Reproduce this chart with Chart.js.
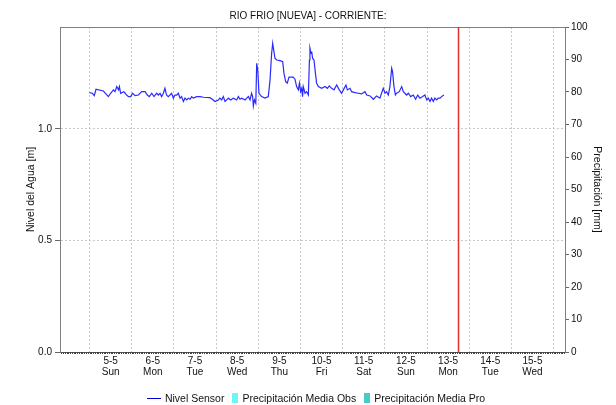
<!DOCTYPE html>
<html>
<head>
<meta charset="utf-8">
<script src="https://cdn.jsdelivr.net/npm/chart.js@4.4.1/dist/chart.umd.min.js"></script>
<style>
  html, body { margin: 0; padding: 0; background: #fff; }
  #wrap { position: relative; width: 616px; height: 405px; }
  #legend {
    position: absolute; left: 8px; width: 616px; top: 391px; height: 14px;
    display: flex; justify-content: center; align-items: center;
    font: 10.5px "Liberation Sans", Arial, sans-serif; color: #111;
  }
  #legend .item { display: flex; align-items: center; margin: 0 4px; }
  #legend .line { width: 14px; height: 0; border-top: 1px solid; margin-right: 4px; }
  #legend .box { width: 6px; height: 10px; margin-right: 4px; }
</style>
</head>
<body>
<div id="wrap">
  <canvas id="chart" width="616" height="405"></canvas>
  <div id="legend"></div>
</div>
<script>
// hours since 5-5 00:00
const sensorHours = [
  0, 1.6, 2.7, 3.7, 7.9, 10.7, 12.0, 13.6, 14.5, 15.5,
  16.5, 17.0, 17.7, 19.5, 20.3, 21.1, 22.2, 23.4, 24.5, 25.9,
  27.8, 29.7, 31.6, 32.9, 34.0, 35.4, 36.7, 38.2, 39.2, 40.1,
  41.0, 42.0, 42.9, 43.8, 44.8, 46.7, 47.7, 48.6, 49.6, 50.5,
  51.5, 52.4, 53.4, 54.3, 55.3, 56.2, 57.2, 58.1, 59.0, 61.0,
  62.9, 64.8, 68.5, 70.4, 71.4, 73.3, 74.2, 75.2, 76.1, 77.1,
  78.0, 79.0, 80.3, 81.8, 83.7, 84.7, 85.6, 86.6, 88.5, 89.4,
  90.4, 91.3, 92.2, 92.8, 93.2, 93.8, 94.6, 95.1, 95.7, 96.4,
  97.9, 99.8, 101.7, 102.7, 103.6, 104.2, 104.6, 105.5, 106.5, 108.4,
  109.9, 110.6, 111.6, 112.5, 113.5, 115.9, 116.9, 117.8, 118.8, 119.4,
  120.1, 120.7, 121.2, 121.6, 122.6, 123.5, 124.5, 125.1, 125.4, 126.0,
  126.4, 126.9, 127.7, 128.5, 129.2, 130.2, 132.1, 134.0, 135.3, 136.4,
  137.7, 139.1, 140.6, 142.1, 143.4, 144.4, 145.9, 146.7, 148.2, 149.1,
  151.0, 152.9, 154.8, 156.7, 157.7, 159.6, 161.5, 163.3, 165.2, 167.1,
  168.1, 169.0, 170.0, 170.9, 171.9, 172.4, 173.2, 174.0, 174.7, 176.2,
  177.6, 178.5, 180.4, 181.4, 182.7, 184.2, 185.5, 186.7, 188.0, 189.5,
  190.8, 191.8, 192.7, 193.7, 194.6, 195.6, 196.5, 197.5, 198.4, 199.4,
  200.3, 201.6
];
// metres
const sensorLevel = [
  1.163, 1.160, 1.149, 1.178, 1.170, 1.145, 1.160, 1.175, 1.167, 1.190,
  1.175, 1.190, 1.160, 1.167, 1.160, 1.152, 1.145, 1.145, 1.160, 1.149,
  1.152, 1.167, 1.167, 1.152, 1.145, 1.160, 1.145, 1.160, 1.152, 1.160,
  1.145, 1.160, 1.182, 1.152, 1.145, 1.160, 1.138, 1.152, 1.152, 1.160,
  1.138, 1.145, 1.123, 1.138, 1.130, 1.138, 1.133, 1.145, 1.138, 1.145,
  1.145, 1.142, 1.140, 1.130, 1.123, 1.130, 1.138, 1.130, 1.145, 1.123,
  1.130, 1.138, 1.130, 1.138, 1.130, 1.145, 1.133, 1.138, 1.130, 1.138,
  1.145, 1.130, 1.160, 1.145, 1.103, 1.130, 1.115, 1.294, 1.265, 1.160,
  1.145, 1.138, 1.145, 1.220, 1.339, 1.384, 1.362, 1.317, 1.309, 1.306,
  1.302, 1.250, 1.212, 1.205, 1.232, 1.232, 1.223, 1.190, 1.175, 1.205,
  1.167, 1.182, 1.145, 1.190, 1.160, 1.167, 1.152, 1.309, 1.362, 1.339,
  1.347, 1.317, 1.309, 1.250, 1.205, 1.190, 1.182, 1.190, 1.182, 1.193,
  1.182, 1.175, 1.197, 1.175, 1.160, 1.175, 1.197, 1.175, 1.182, 1.167,
  1.163, 1.160, 1.157, 1.167, 1.152, 1.148, 1.133, 1.148, 1.138, 1.182,
  1.160, 1.167, 1.152, 1.190, 1.272, 1.257, 1.190, 1.152, 1.160, 1.167,
  1.190, 1.167, 1.152, 1.160, 1.145, 1.152, 1.133, 1.152, 1.138, 1.145,
  1.152, 1.130, 1.138, 1.123, 1.138, 1.123, 1.138, 1.130, 1.138, 1.138,
  1.145, 1.152
];
const precipObs = [];
const precipPro = [];

const dayLabels = ['5-5', '6-5', '7-5', '8-5', '9-5', '10-5', '11-5', '12-5', '13-5', '14-5', '15-5'];
const dayNames = ['Sun', 'Mon', 'Tue', 'Wed', 'Thu', 'Fri', 'Sat', 'Sun', 'Mon', 'Tue', 'Wed'];
const levelTicks = [0, 0.5, 1.0];
const xStart = -16.8;
const xEnd = 270.5;
const levelMax = 1.457;
const nowHour = 209.5;

const FONT = '"Liberation Sans", Arial, sans-serif';
const GRID = '#c8c8c8';

const framePlugin = {
  id: 'frame',
  afterDatasetsDraw(chart) {
    const { ctx, chartArea: a, scales: { x } } = chart;
    ctx.save();
    ctx.lineWidth = 1;
    ctx.strokeStyle = '#808080';
    ctx.beginPath();
    ctx.moveTo(a.left, Math.round(a.top) + 0.5);
    ctx.lineTo(a.right, Math.round(a.top) + 0.5);
    ctx.stroke();

    // hourly minor ticks along the time axis
    ctx.strokeStyle = '#444';
    ctx.beginPath();
    for (let h = Math.ceil(x.min); h <= x.max; h++) {
      const px = Math.round(x.getPixelForValue(h)) + 0.5;
      ctx.moveTo(px, a.bottom);
      ctx.lineTo(px, a.bottom + 2);
    }
    ctx.stroke();

    // current time marker
    const nx = Math.round(x.getPixelForValue(nowHour)) + 0.5;
    ctx.strokeStyle = '#e03030';
    ctx.lineWidth = 1.5;
    ctx.beginPath();
    ctx.moveTo(nx, a.top);
    ctx.lineTo(nx, a.bottom);
    ctx.stroke();
    ctx.restore();
  }
};

const ctx = document.getElementById('chart').getContext('2d');
const chart = new Chart(ctx, {
  data: {
    datasets: [
      {
        type: 'line',
        label: 'Nivel Sensor',
        data: sensorHours.map((h, i) => ({ x: h, y: sensorLevel[i] })),
        borderColor: '#2a2aff',
        borderWidth: 1.2,
        pointRadius: 0,
        tension: 0,
        yAxisID: 'y'
      },
      {
        type: 'bar',
        label: 'Precipitación Media Obs',
        data: precipObs,
        backgroundColor: '#6ef5f5',
        yAxisID: 'y1'
      },
      {
        type: 'bar',
        label: 'Precipitación Media Pro',
        data: precipPro,
        backgroundColor: '#48caca',
        yAxisID: 'y1'
      }
    ]
  },
  options: {
    responsive: false,
    animation: false,
    layout: { padding: 0 },
    plugins: {
      legend: { display: false },
      tooltip: { enabled: false },
      title: {
        display: true,
        text: 'RIO FRIO [NUEVA] - CORRIENTE:',
        color: '#111',
        font: { family: FONT, size: 10, weight: 'normal' },
        padding: { top: 10, bottom: 5 }
      }
    },
    scales: {
      x: {
        type: 'linear',
        offset: false,
        min: xStart,
        max: xEnd,
        afterBuildTicks: (s) => {
          const t = [];
          for (let d = 0; d <= 11; d++) {
            t.push({ value: d * 24 });
            if (d < dayLabels.length) t.push({ value: d * 24 + 12 });
          }
          s.ticks = t;
        },
        ticks: {
          autoSkip: false,
          maxRotation: 0,
          minRotation: 0,
          padding: 4,
          color: '#111',
          font: { family: FONT, size: 10, lineHeight: 1.1 },
          callback: (v) => {
            if (v % 24 === 12) {
              const i = (v - 12) / 24;
              return [dayLabels[i], dayNames[i]];
            }
            return '';
          }
        },
        grid: {
          offset: false,
          color: (c) => (c.tick && c.tick.value % 24 === 0 ? GRID : 'rgba(0,0,0,0)'),
          drawTicks: false
        },
        border: { color: '#555', dash: [2, 2] },
        afterFit: (s) => { s.height = 53; }
      },
      y: {
        type: 'linear',
        position: 'left',
        min: 0,
        max: levelMax,
        afterBuildTicks: (s) => { s.ticks = levelTicks.map(v => ({ value: v })); },
        ticks: {
          padding: 3,
          color: '#111',
          font: { family: FONT, size: 10 },
          callback: (v) => Number(v).toFixed(1)
        },
        grid: {
          color: (c) => (c.tick && c.tick.value === 0 ? 'rgba(0,0,0,0)' : GRID),
          tickColor: '#666',
          tickLength: 5,
          tickBorderDash: []
        },
        border: { color: '#808080', dash: [2, 2] },
        title: {
          display: true,
          text: 'Nivel del Agua [m]',
          color: '#111',
          font: { family: FONT, size: 10.5 },
          padding: { top: 25 }
        },
        afterFit: (s) => { s.width = 60; }
      },
      y1: {
        type: 'linear',
        position: 'right',
        min: 0,
        max: 100,
        ticks: {
          stepSize: 10,
          padding: 2,
          color: '#111',
          font: { family: FONT, size: 10 }
        },
        grid: {
          drawOnChartArea: false,
          tickColor: '#666',
          tickLength: 4
        },
        border: { color: '#808080' },
        title: {
          display: true,
          text: 'Precipitación [mm]',
          color: '#111',
          font: { family: FONT, size: 10.5 },
          padding: { top: 13 }
        },
        afterFit: (s) => { s.width = 51; }
      }
    }
  },
  plugins: [framePlugin]
});

// legend built from the chart's datasets
const legend = document.getElementById('legend');
chart.data.datasets.forEach((ds) => {
  const item = document.createElement('div');
  item.className = 'item';
  const mark = document.createElement('span');
  if (ds.type === 'line') {
    mark.className = 'line';
    mark.style.borderTopColor = '#0000cc';
  } else {
    mark.className = 'box';
    mark.style.background = ds.backgroundColor;
  }
  item.appendChild(mark);
  item.appendChild(document.createTextNode(ds.label));
  legend.appendChild(item);
});
</script>
</body>
</html>
